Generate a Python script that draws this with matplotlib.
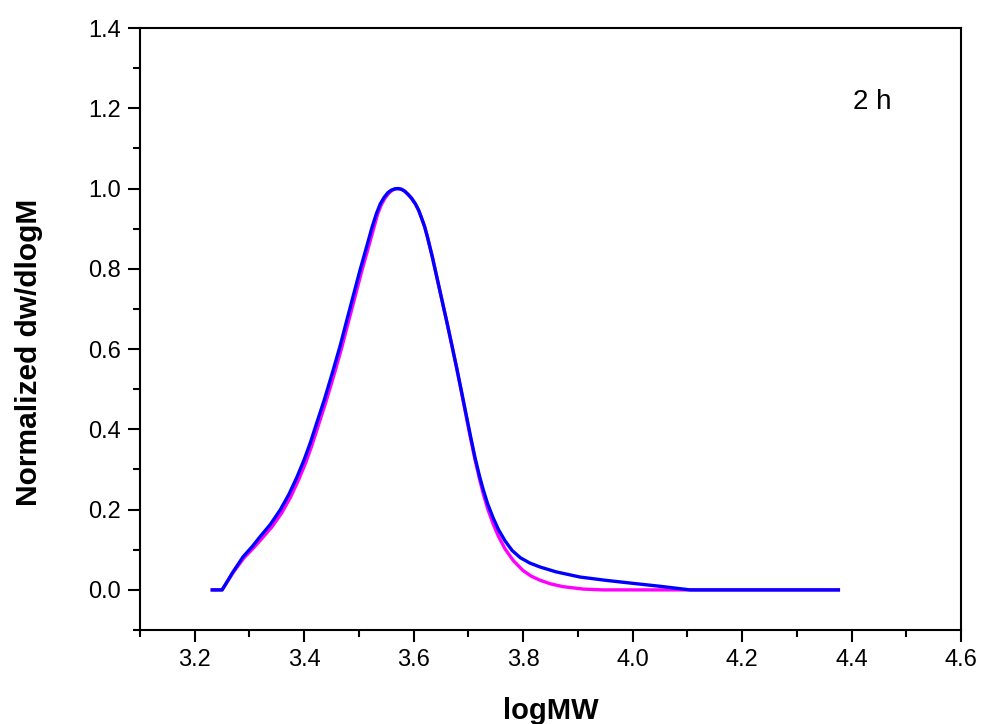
import matplotlib
matplotlib.use('Agg')
import matplotlib.pyplot as plt
from matplotlib.ticker import MultipleLocator

# blue curve
logmw_b = [3.232, 3.250, 3.270, 3.288, 3.305, 3.319, 3.338, 3.356, 3.372, 3.387,
           3.400, 3.411, 3.420, 3.437, 3.453, 3.466, 3.478, 3.490, 3.502, 3.514,
           3.524, 3.532, 3.539, 3.546, 3.553, 3.559, 3.566, 3.572, 3.578, 3.584,
           3.590, 3.596, 3.603, 3.609, 3.614, 3.620, 3.625, 3.634, 3.643, 3.652,
           3.661, 3.670, 3.679, 3.688, 3.696, 3.704, 3.712, 3.720, 3.727, 3.735,
           3.745, 3.755, 3.767, 3.780, 3.795, 3.812, 3.831, 3.860, 3.904, 3.950,
           3.996, 4.050, 4.105, 4.200, 4.300, 4.376]
dw_b = [0, 0, 0.045, 0.082, 0.108, 0.132, 0.163, 0.199, 0.238, 0.282,
        0.325, 0.366, 0.404, 0.475, 0.548, 0.610, 0.673, 0.735, 0.797, 0.855,
        0.904, 0.938, 0.962, 0.978, 0.990, 0.996, 0.9995, 1.0, 0.998, 0.993,
        0.985, 0.976, 0.962, 0.946, 0.928, 0.905, 0.880, 0.830, 0.775, 0.720,
        0.665, 0.608, 0.550, 0.490, 0.436, 0.382, 0.330, 0.285, 0.250, 0.215,
        0.180, 0.150, 0.122, 0.098, 0.080, 0.067, 0.057, 0.045, 0.032, 0.024,
        0.017, 0.009, 0, 0, 0, 0]

# magenta curve
logmw_m = [3.232, 3.250, 3.270, 3.290, 3.307, 3.322, 3.341, 3.359, 3.375, 3.390,
           3.403, 3.414, 3.423, 3.440, 3.456, 3.469, 3.481, 3.493, 3.505, 3.517,
           3.527, 3.534, 3.541, 3.548, 3.555, 3.560, 3.566, 3.572, 3.578, 3.584,
           3.590, 3.596, 3.603, 3.609, 3.614, 3.620, 3.625, 3.634, 3.643, 3.652,
           3.661, 3.670, 3.679, 3.688, 3.696, 3.704, 3.712, 3.720, 3.727, 3.735,
           3.745, 3.755, 3.767, 3.782, 3.800, 3.815, 3.831, 3.850, 3.873, 3.910,
           3.946, 4.000, 4.100, 4.200, 4.300, 4.376]
dw_m = [0, 0, 0.043, 0.080, 0.104, 0.127, 0.157, 0.192, 0.231, 0.275,
        0.318, 0.360, 0.398, 0.470, 0.543, 0.606, 0.669, 0.731, 0.794, 0.852,
        0.901, 0.936, 0.960, 0.977, 0.989, 0.995, 0.999, 1.0, 0.998, 0.993,
        0.985, 0.976, 0.962, 0.946, 0.928, 0.905, 0.880, 0.830, 0.775, 0.720,
        0.665, 0.608, 0.550, 0.488, 0.432, 0.377, 0.325, 0.278, 0.240, 0.203,
        0.165, 0.133, 0.102, 0.073, 0.048, 0.034, 0.024, 0.015, 0.008, 0.002,
        0, 0, 0, 0, 0, 0]

plt.rcParams['font.family'] = ['Liberation Sans', 'DejaVu Sans']

fig = plt.figure(figsize=(9.82, 7.24), dpi=100)
ax = fig.add_axes([0.1426, 0.1298, 0.8360, 0.8315])

ax.plot(logmw_m, dw_m, color='#ff00ff', lw=2.4)
ax.plot(logmw_b, dw_b, color='#0000ff', lw=2.4)

ax.set_xlim(3.1, 4.6)
ax.set_ylim(-0.1, 1.4)
ax.xaxis.set_major_locator(MultipleLocator(0.2))
ax.xaxis.set_minor_locator(MultipleLocator(0.1))
ax.yaxis.set_major_locator(MultipleLocator(0.2))
ax.yaxis.set_minor_locator(MultipleLocator(0.1))
ax.tick_params(which='major', direction='out', length=8.5, width=1.5, labelsize=17, pad=5)
ax.tick_params(which='minor', direction='out', length=5, width=1.5)
ax.tick_params(top=False, right=False, which='both')
for s in ax.spines.values():
    s.set_linewidth(1.5)

ax.set_xlabel('logMW', fontsize=21, fontweight='bold')
ax.set_ylabel('Normalized dw/dlogM', fontsize=21.5, fontweight='bold')
ax.xaxis.set_label_coords(0.5, -0.111)
ax.yaxis.set_label_coords(-0.118, 0.462)
ax.text(4.403, 1.216, '2 h', fontsize=20, ha='left', va='center')

fig.savefig('out.png', dpi=100)
